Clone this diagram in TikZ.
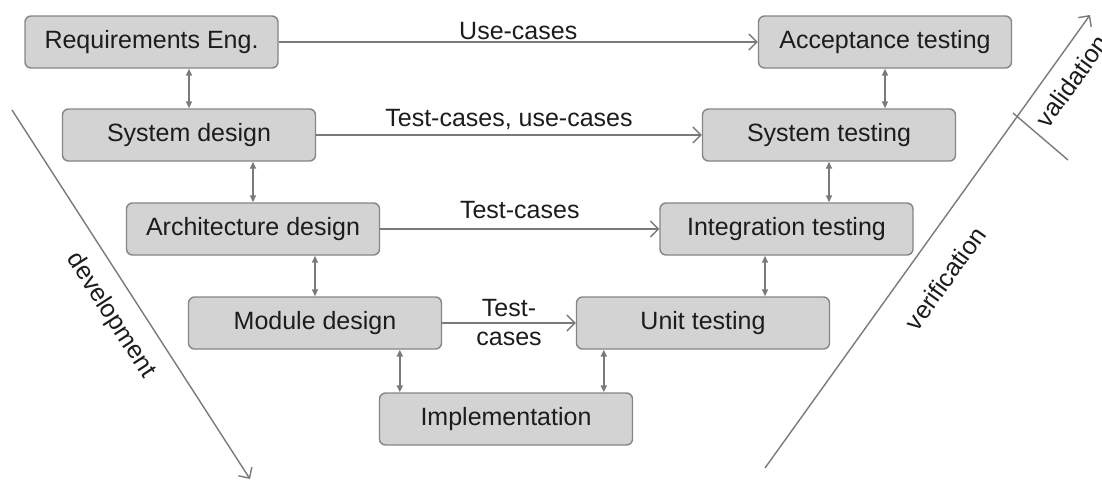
\documentclass[tikz,border=0pt]{standalone}
\usepackage{fontspec}
\setmainfont{Liberation Sans}
\usetikzlibrary{arrows.meta,positioning}
\definecolor{boxfill}{HTML}{D3D3D3}
\definecolor{boxline}{HTML}{858585}
\definecolor{lineg}{HTML}{7A7A7A}
\definecolor{ink}{HTML}{1C1C1C}

\begin{document}
\begin{tikzpicture}[x=0.5pt,y=-0.5pt,
stage/.style={rectangle,rounded corners=3pt,draw=boxline,fill=boxfill,line width=0.7pt,
  minimum width=126.5pt,minimum height=26pt,text=ink},
flow/.style={draw=lineg,line width=0.7pt,-{Straight Barb[length=4pt,width=8pt]}},
link/.style={draw=lineg,line width=0.9pt,{Triangle[length=3.5pt,width=3pt]}-{Triangle[length=3.5pt,width=3pt]}},
lbl/.style={text=ink,inner sep=2pt},
font=\fontsize{12.5pt}{14pt}\selectfont]
\useasboundingbox (0,0) rectangle (1102,482);
% left branch
\node[stage] (req) at (151.5,42) {Requirements Eng.};
\node[stage] (sysd) at (189,135) {System design};
\node[stage] (arch) at (253,229) {Architecture design};
\node[stage] (mod) at (315,323) {Module design};
% right branch
\node[stage] (acc) at (885,42) {Acceptance testing};
\node[stage] (syst) at (829,135) {System testing};
\node[stage] (integ) at (786.5,229) {Integration testing};
\node[stage] (unit) at (703,323) {Unit testing};
\node[stage] (impl) at (506,419) {Implementation};
% test artefacts
\draw[flow] (req) -- node[lbl,above,yshift=-1pt] {Use-cases} (acc);
\draw[flow] (sysd) -- node[lbl,above,yshift=0.5pt] {Test-cases, use-cases} (syst);
\draw[flow] (arch) -- node[lbl,above,yshift=3pt] {Test-cases} (integ);
\draw[flow] (mod) -- node[lbl,align=center,font=\fontsize{12.5pt}{14.5pt}\selectfont] {Test-\\cases} (unit);
% feedback between levels
\draw[link] (req.south -| sysd.north) -- (sysd.north);
\draw[link] (sysd.south -| arch.north) -- (arch.north);
\draw[link] (arch.south -| mod.north) -- (mod.north);
\draw[link] (acc.south) -- (acc.south |- syst.north);
\draw[link] (syst.south) -- (syst.south |- integ.north);
\draw[link] ([xshift=-10.75pt]integ.south) -- ([xshift=-10.75pt]integ.south |- unit.north);
\draw[link] ([xshift=10.5pt]impl.north west |- mod.south) -- ([xshift=10.5pt]impl.north west);
\draw[link] ([xshift=14pt]unit.south west) -- ([xshift=14pt]unit.south west |- impl.north);
% phases
\coordinate (dev1) at (12,110);
\coordinate (dev2) at (250,479);
\draw[flow] (dev1) -- node[lbl,sloped,below,pos=0.515,inner sep=8pt] {development} (dev2);
\coordinate (ver1) at (765,468);
\coordinate (ver2) at (1090,15);
\draw[flow] (ver1) -- node[lbl,sloped,below,pos=0.465,inner sep=13pt] {verification} (ver2)
  node[lbl,sloped,below,pos=0.885,inner sep=7pt] {validation};
\coordinate (tick1) at (1013,113);
\coordinate (tick2) at (1068,160);
\draw[draw=lineg,line width=0.7pt] (tick1) -- (tick2);
\end{tikzpicture}
\end{document}
